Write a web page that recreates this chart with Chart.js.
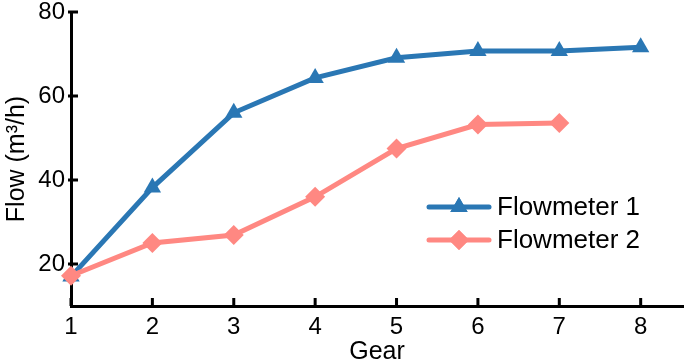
<!DOCTYPE html>
<html>
<head>
<meta charset="utf-8">
<script src="https://cdn.jsdelivr.net/npm/chart.js@4/dist/chart.umd.min.js"></script>
<style>
  html, body { margin: 0; padding: 0; background: #fff; overflow: hidden; }
  #wrap { width: 685px; height: 364px; position: relative; }
  canvas { display: block; }
</style>
</head>
<body>
<div id="wrap"><canvas id="flow"></canvas></div>
<script>
const gears = [1, 2, 3, 4, 5, 6, 7, 8];
const flowmeter1 = [17, 38.2, 56, 64.3, 69.1, 70.7, 70.7, 71.6];
const flowmeter2 = [17.2, 25, 26.9, 36, 47.5, 53.2, 53.6];
const yTicks = [20, 40, 60, 80];
const seriesNames = ['Flowmeter 1', 'Flowmeter 2'];

const blue = '#2a77b4';
const pink = '#ff8882';
const font = 'Liberation Sans, Arial, sans-serif';

const toPoints = vals => vals.map((v, i) => ({ x: gears[i], y: v }));

// ticks point into the plot, like the original figure
const innerTicks = {
  id: 'innerTicks',
  beforeDatasetsDraw(chart) {
    const { ctx, chartArea, scales } = chart;
    ctx.save();
    ctx.strokeStyle = '#000';
    ctx.lineWidth = 3;
    ctx.beginPath();
    scales.x.ticks.forEach(t => {
      const px = scales.x.getPixelForValue(t.value);
      ctx.moveTo(px, chartArea.bottom);
      ctx.lineTo(px, chartArea.bottom - 8);
    });
    scales.y.ticks.forEach(t => {
      const py = scales.y.getPixelForValue(t.value);
      ctx.moveTo(chartArea.left - 3, py);
      ctx.lineTo(chartArea.left + 7, py);
    });
    ctx.stroke();
    ctx.restore();
  }
};

const insideLegend = {
  id: 'insideLegend',
  afterDraw(chart) {
    const { ctx } = chart;
    const rows = [
      { name: seriesNames[0], color: blue, style: 'triangle', y: 207 },
      { name: seriesNames[1], color: pink, style: 'rectRot', y: 240 }
    ];
    ctx.save();
    rows.forEach(r => {
      ctx.strokeStyle = r.color;
      ctx.lineWidth = 5;
      ctx.lineCap = 'round';
      ctx.beginPath();
      ctx.moveTo(429, r.y);
      ctx.lineTo(489, r.y);
      ctx.stroke();
      ctx.fillStyle = r.color;
      Chart.helpers.drawPoint(ctx, { pointStyle: r.style, radius: 10, rotation: 0, borderWidth: 0 }, 459, r.y);
      ctx.fill();
      ctx.fillStyle = '#000';
      ctx.font = '26px ' + font;
      ctx.textBaseline = 'middle';
      ctx.fillText(r.name, 497, r.y + 1);
    });
    ctx.restore();
  }
};

const noPad = axis => {
  axis.paddingTop = 0;
  axis.paddingBottom = 0;
  axis.paddingLeft = 0;
  axis.paddingRight = 0;
};

new Chart(document.getElementById('flow'), {
  type: 'line',
  data: {
    datasets: [
      {
        label: seriesNames[0],
        data: toPoints(flowmeter1),
        borderColor: blue,
        backgroundColor: blue,
        borderWidth: 5,
        pointStyle: 'triangle',
        pointRadius: 10,
        pointBorderWidth: 0,
        order: 1,
        clip: false
      },
      {
        label: seriesNames[1],
        data: toPoints(flowmeter2),
        borderColor: pink,
        backgroundColor: pink,
        borderWidth: 5,
        pointStyle: 'rectRot',
        pointRadius: 10,
        pointBorderWidth: 0,
        order: 0,
        clip: false
      }
    ]
  },
  plugins: [innerTicks, insideLegend],
  options: {
    responsive: true,
    maintainAspectRatio: false,
    animation: false,
    layout: { autoPadding: false, padding: { top: 12, right: 2, left: 0, bottom: 0 } },
    plugins: {
      legend: { display: false },
      tooltip: { enabled: false }
    },
    scales: {
      x: {
        type: 'linear',
        min: 1,
        max: 8.52,
        afterBuildTicks: axis => { axis.ticks = gears.map(g => ({ value: g })); },
        afterFit: axis => { axis.height = 58; noPad(axis); },
        grid: { display: false, drawTicks: false },
        border: { color: '#000', width: 3 },
        ticks: { color: '#000', padding: 7, font: { family: font, size: 24 } },
        title: {
          display: true,
          text: 'Gear',
          color: '#000',
          padding: { top: 0, bottom: -3 },
          font: { family: font, size: 25 }
        }
      },
      y: {
        min: 10,
        max: 80,
        afterBuildTicks: axis => { axis.ticks = yTicks.map(v => ({ value: v })); },
        afterFit: axis => { axis.width = 71; noPad(axis); },
        grid: { display: false, drawTicks: false },
        border: { color: '#000', width: 3 },
        ticks: { color: '#000', padding: 6, font: { family: font, size: 24 } },
        title: {
          display: true,
          text: 'Flow (m³/h)',
          color: '#000',
          padding: { top: 2, bottom: 0 },
          font: { family: font, size: 25 }
        }
      }
    }
  }
});
</script>
</body>
</html>
